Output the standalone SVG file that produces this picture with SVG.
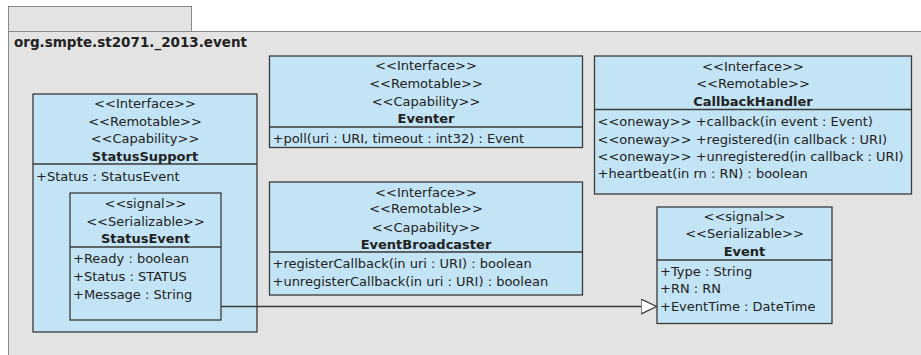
<svg xmlns="http://www.w3.org/2000/svg" width="921" height="355" viewBox="0 0 921 355">
<style>
.pkg{fill:#e3e3e3;stroke:#8a8a8a;stroke-width:1}
.box{fill:#c2e4f4;stroke:#3a3a3a;stroke-width:1.3}
.div{stroke:#3a3a3a;stroke-width:1.3}
text{font-family:"DejaVu Sans",sans-serif;font-size:13px;fill:#222}
.c{text-anchor:middle}
.b{font-weight:bold}
.pl{font-size:13.5px;font-weight:bold}
.edge{fill:none;stroke:#3a3a3a;stroke-width:1.3}
</style>
<defs>
<marker id="gen" markerWidth="18" markerHeight="18" refX="16" refY="8" orient="auto" markerUnits="userSpaceOnUse">
<path d="M0.5,0.5 L16,8 L0.5,15.5 Z" fill="#fff" stroke="#3a3a3a" stroke-width="1.2"/>
</marker>
</defs>
<rect width="921" height="355" fill="#ffffff"/>
<g id="package">
<rect class="pkg" x="8.5" y="6.5" width="183" height="25"/>
<rect class="pkg" x="8.5" y="31.5" width="920" height="340"/>
<text class="pl" x="14" y="47">org.smpte.st2071._2013.event</text>
</g>
<g id="StatusSupport">
<rect class="box" x="33" y="94" width="224" height="238"/>
<line class="div" x1="33" y1="164" x2="257" y2="164"/>
<text class="c" x="145" y="107.5">&lt;&lt;Interface&gt;&gt;</text>
<text class="c" x="145" y="125.5">&lt;&lt;Remotable&gt;&gt;</text>
<text class="c" x="145" y="142.5">&lt;&lt;Capability&gt;&gt;</text>
<text class="c b" x="145" y="160.5">StatusSupport</text>
<text x="36" y="180.5">+Status : StatusEvent</text>
</g>
<g id="StatusEvent">
<rect class="box" x="70" y="193" width="151" height="127"/>
<line class="div" x1="70" y1="247" x2="221" y2="247"/>
<text class="c" x="145.5" y="208">&lt;&lt;signal&gt;&gt;</text>
<text class="c" x="145.5" y="225.5">&lt;&lt;Serializable&gt;&gt;</text>
<text class="c b" x="145.5" y="243">StatusEvent</text>
<text x="73" y="263">+Ready : boolean</text>
<text x="73" y="280.5">+Status : STATUS</text>
<text x="73" y="298.5">+Message : String</text>
</g>
<g id="Eventer">
<rect class="box" x="269.5" y="56" width="313" height="91.5"/>
<line class="div" x1="269.5" y1="127" x2="582.5" y2="127"/>
<text class="c" x="426" y="69.5">&lt;&lt;Interface&gt;&gt;</text>
<text class="c" x="426" y="88">&lt;&lt;Remotable&gt;&gt;</text>
<text class="c" x="426" y="105.5">&lt;&lt;Capability&gt;&gt;</text>
<text class="c b" x="426" y="123">Eventer</text>
<text x="272.5" y="143">+poll(uri : URI, timeout : int32) : Event</text>
</g>
<g id="EventBroadcaster">
<rect class="box" x="269.5" y="182" width="313" height="113"/>
<line class="div" x1="269.5" y1="252" x2="582.5" y2="252"/>
<text class="c" x="426" y="196.5">&lt;&lt;Interface&gt;&gt;</text>
<text class="c" x="426" y="213">&lt;&lt;Remotable&gt;&gt;</text>
<text class="c" x="426" y="231.5">&lt;&lt;Capability&gt;&gt;</text>
<text class="c b" x="426" y="248.5">EventBroadcaster</text>
<text x="272.5" y="268">+registerCallback(in uri : URI) : boolean</text>
<text x="272.5" y="285.5">+unregisterCallback(in uri : URI) : boolean</text>
</g>
<g id="CallbackHandler">
<rect class="box" x="594.5" y="56" width="317" height="138"/>
<line class="div" x1="594.5" y1="109.5" x2="911.5" y2="109.5"/>
<text class="c" x="753" y="70.5">&lt;&lt;Interface&gt;&gt;</text>
<text class="c" x="753" y="88">&lt;&lt;Remotable&gt;&gt;</text>
<text class="c b" x="753" y="105.5">CallbackHandler</text>
<text x="597.5" y="125.5">&lt;&lt;oneway&gt;&gt; +callback(in event : Event)</text>
<text x="597.5" y="143.5">&lt;&lt;oneway&gt;&gt; +registered(in callback : URI)</text>
<text x="597.5" y="160.5">&lt;&lt;oneway&gt;&gt; +unregistered(in callback : URI)</text>
<text x="597.5" y="178">+heartbeat(in rn : RN) : boolean</text>
</g>
<g id="Event">
<rect class="box" x="657" y="207" width="175" height="116.5"/>
<line class="div" x1="657" y1="260" x2="832" y2="260"/>
<text class="c" x="744.5" y="220.5">&lt;&lt;signal&gt;&gt;</text>
<text class="c" x="744.5" y="238">&lt;&lt;Serializable&gt;&gt;</text>
<text class="c b" x="744.5" y="255.5">Event</text>
<text x="660" y="275.5">+Type : String</text>
<text x="660" y="293">+RN : RN</text>
<text x="660" y="310.5">+EventTime : DateTime</text>
</g>
<g id="connectors">
<path class="edge" d="M221,306.5 L656.5,306.5" marker-end="url(#gen)"/>
</g>
</svg>
